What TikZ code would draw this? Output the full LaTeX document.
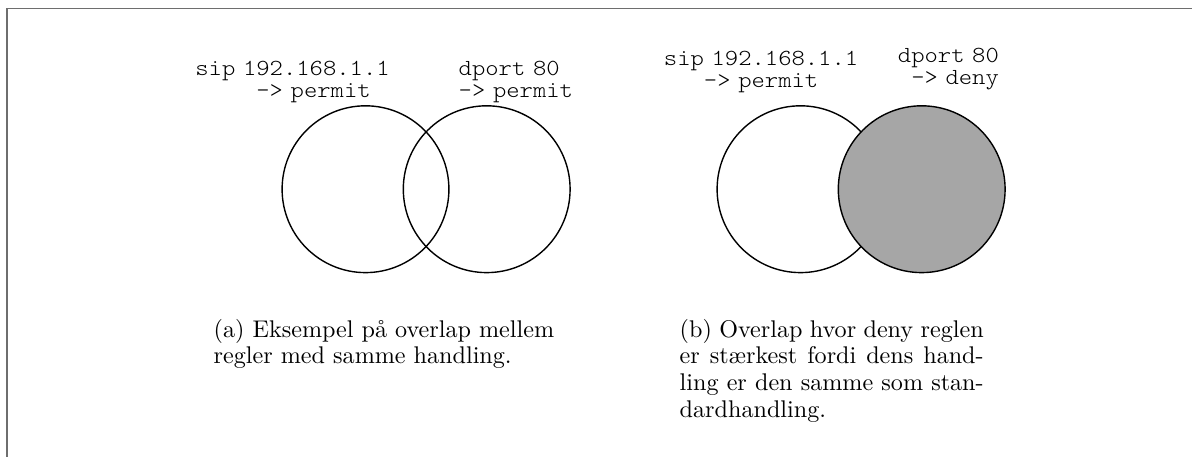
\documentclass[tikz,border=0pt]{standalone}
\definecolor{framegray}{RGB}{110,110,110}
\definecolor{denyfill}{RGB}{166,166,166}
% thin typewriter face for the rule labels, widened to a broader cell
\DeclareFontFamily{TU}{lmttlight}{\hyphenchar\font=-1}
\DeclareFontShape{TU}{lmttlight}{m}{n}{<-> "[lmmonolt10-regular]:extend=1.104"}{}
% 10pt design roman, scaled up, for the captions
\DeclareFontFamily{TU}{lmrten}{}
\DeclareFontShape{TU}{lmrten}{m}{n}{<-> "[lmroman10-regular]"}{}
\newcommand\rulefont{\fontfamily{lmttlight}\fontseries{m}\fontshape{n}\fontsize{11.5}{11.35}\selectfont}
\newcommand\capfont{\fontfamily{lmrten}\fontseries{m}\fontshape{n}\fontsize{12.07}{13.35}\selectfont}
\begin{document}
\begin{tikzpicture}[x=0.5pt,y=-0.5pt,
  ruleset/.style={circle,draw=black,line width=0.7pt,minimum size=83.4pt,inner sep=0pt},
  denyset/.style={ruleset,fill=denyfill},
  rulelabel/.style={inner sep=0pt,font=\rulefont},
  subcaption/.style={inner sep=0pt,font=\capfont,anchor=base west}]
\useasboundingbox (0,0) rectangle (1192,457);

% frame (top and left edges)
\coordinate (frameTR) at (1192,8.5);
\coordinate (frameTL) at (7,8.5);
\coordinate (frameBL) at (7,457);
\draw[framegray,line width=0.75pt] (frameTR) -- (frameTL) -- (frameBL);

% (a) two permit rules overlapping
\node[ruleset] (aSip)   at (365.5,189.2) {};
\node[ruleset] (aDport) at (486.7,189.2) {};
\node[rulelabel,text width=101pt,align=left,anchor=base west] (aSipLabel) at (195,75)
  {sip 192.168.1.1\\\hphantom{sip 1}-> permit};
\node[rulelabel,text width=61pt,align=left,anchor=base west] (aDportLabel) at (458.3,75)
  {dport 80\\-> permit};
\node[subcaption,text width=175pt,align=left] (capA) at (213.3,337)
  {(a) Eksempel på overlap mellem\\regler med samme handling.};

% (b) permit rule overlapped by a deny rule
\node[ruleset] (bSip)   at (800.5,189.2) {};
\node[denyset] (bDport) at (921.7,189.2) {};
\node[rulelabel,text width=100pt,align=center,anchor=base west] (bSipLabel) at (660.7,65)
  {sip 192.168.1.1\\-> permit};
\node[rulelabel,text width=53.33pt,align=right,anchor=base east] (bDportLabel) at (999.3,62)
  {dport 80\\-> deny};
\node[subcaption,text width=152pt,align=justify] (capB) at (679.3,337)
  {(b) Overlap hvor deny reglen\linebreak er stærkest fordi dens hand-\linebreak ling er den samme som stan-\linebreak dardhandling.};
\end{tikzpicture}
\end{document}
